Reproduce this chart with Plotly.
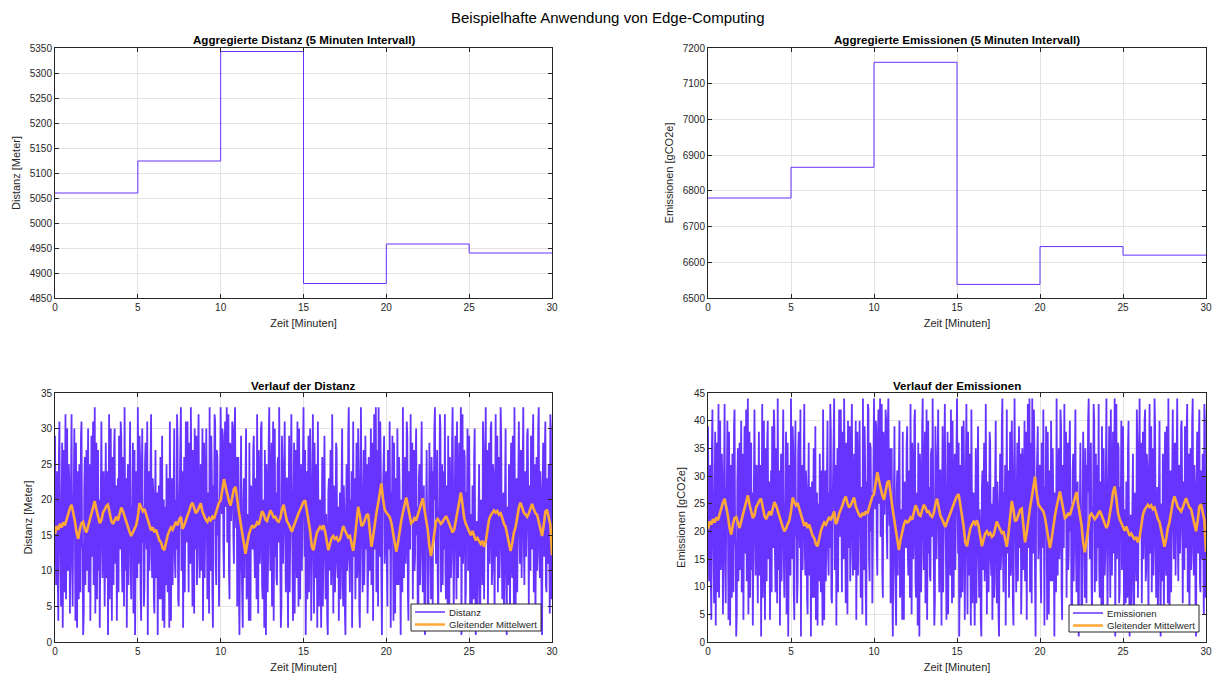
import plotly.graph_objects as go

# ---------------- data ----------------
interval_start_min = [0, 5, 10, 15, 20, 25]
interval_end_min = 30
agg_distance = [5060, 5124, 5343, 4879, 4958, 4940]
agg_emissions = [6780, 6866, 7160, 6538, 6644, 6620]

total_minutes = 30
# one value every 2 seconds
distance_raw = [
    29, 14, 8, 21, 24, 9, 3, 26, 31, 17, 12, 5, 19, 28, 2, 13, 27, 7, 15, 32, 6, 20, 30, 10, 11, 25, 22, 4, 18, 23,
    32, 11, 5, 18, 21, 30, 9, 3, 28, 16, 2, 24, 17, 6, 25, 12, 7, 29, 31, 14, 13, 1, 4, 22, 26, 8, 19, 27, 10, 20,
    30, 7, 14, 25, 3, 18, 29, 12, 22, 31, 8, 15, 33, 4, 16, 28, 6, 21, 27, 10, 20, 2, 11, 26, 31, 17, 9, 23, 24, 13,
    5, 19, 28, 9, 17, 24, 1, 14, 32, 6, 21, 30, 12, 3, 26, 18, 8, 27, 30, 11, 15, 22, 3, 16, 23, 7, 29, 20, 13, 31,
    29, 12, 7, 26, 20, 5, 33, 17, 10, 23, 2, 15, 25, 8, 16, 30, 31, 11, 6, 19, 18, 28, 4, 13, 27, 1, 14, 24, 22, 9,
    33, 18, 11, 29, 26, 7, 3, 22, 30, 14, 19, 5, 8, 25, 28, 16, 13, 31, 1, 20, 24, 10, 17, 27, 32, 12, 9, 23, 21, 6,
    4, 18, 27, 9, 12, 21, 1, 15, 22, 6, 16, 26, 6, 13, 29, 3, 10, 20, 2, 17, 19, 8, 25, 12, 7, 23, 14, 2, 31, 11,
    3, 15, 23, 8, 18, 27, 30, 12, 9, 20, 13, 32, 28, 6, 5, 17, 21, 29, 33, 10, 11, 24, 2, 19, 26, 7, 16, 31, 24, 14,
    31, 16, 7, 28, 22, 11, 33, 20, 15, 5, 27, 23, 4, 30, 19, 13, 29, 8, 12, 26, 32, 17, 9, 21, 25, 10, 18, 30, 3, 24,
    28, 9, 14, 25, 30, 16, 6, 19, 21, 4, 33, 13, 10, 29, 24, 7, 2, 22, 17, 32, 31, 11, 8, 27, 26, 15, 20, 5, 12, 23,
    33, 22, 18, 30, 29, 13, 9, 26, 31, 19, 25, 33, 14, 24, 32, 10, 6, 28, 27, 17, 21, 31, 30, 15, 11, 29, 33, 20, 16, 26,
    5, 16, 26, 8, 1, 12, 19, 29, 11, 4, 2, 20, 23, 9, 14, 25, 30, 6, 7, 18, 17, 3, 28, 10, 3, 22, 21, 15, 13, 27,
    29, 13, 9, 23, 18, 6, 32, 16, 4, 27, 24, 11, 15, 30, 31, 8, 6, 19, 20, 2, 27, 14, 1, 25, 22, 7, 12, 28, 33, 17,
    10, 22, 28, 5, 16, 31, 3, 18, 30, 12, 21, 9, 8, 25, 26, 14, 33, 20, 13, 2, 5, 29, 24, 11, 19, 27, 31, 15, 7, 23,
    23, 12, 2, 18, 29, 7, 15, 26, 32, 20, 11, 3, 19, 28, 4, 14, 27, 16, 9, 31, 21, 5, 30, 13, 6, 22, 25, 10, 17, 24,
    33, 20, 12, 27, 1, 10, 24, 6, 18, 29, 7, 15, 30, 21, 3, 13, 22, 32, 14, 4, 28, 17, 9, 25, 16, 2, 31, 11, 5, 19,
    20, 9, 2, 16, 26, 5, 11, 24, 29, 13, 6, 18, 15, 3, 1, 21, 23, 10, 17, 27, 8, 12, 32, 14, 4, 22, 19, 7, 13, 28,
    27, 11, 9, 19, 3, 15, 21, 6, 14, 26, 30, 8, 5, 22, 18, 4, 1, 17, 25, 10, 12, 29, 33, 13, 7, 20, 16, 24, 2, 14,
    31, 12, 19, 23, 6, 17, 28, 9, 11, 30, 24, 5, 2, 18, 33, 21, 15, 7, 20, 27, 8, 14, 29, 16, 13, 25, 4, 10, 26, 22,
    10, 24, 30, 8, 17, 28, 3, 19, 32, 13, 22, 33, 7, 16, 27, 5, 33, 20, 12, 31, 25, 9, 1, 18, 21, 26, 29, 11, 14, 23,
    24, 10, 5, 27, 19, 13, 31, 6, 2, 21, 16, 29, 11, 3, 28, 15, 4, 23, 13, 8, 30, 17, 8, 26, 22, 12, 1, 20, 18, 7,
    33, 16, 9, 22, 26, 11, 14, 31, 29, 7, 3, 24, 21, 13, 32, 18, 17, 28, 6, 20, 27, 10, 12, 25, 30, 15, 19, 2, 4, 23,
    25, 8, 15, 29, 31, 12, 7, 19, 22, 4, 1, 16, 18, 27, 10, 3, 2, 14, 28, 21, 13, 6, 26, 11, 5, 24, 20, 30, 33, 17,
    11, 20, 27, 9, 3, 16, 19, 32, 30, 7, 14, 25, 8, 18, 24, 13, 32, 10, 6, 22, 17, 4, 29, 15, 2, 26, 21, 9, 12, 28,
    33, 19, 4, 13, 23, 29, 16, 6, 31, 22, 9, 17, 28, 12, 20, 33, 1, 24, 32, 11, 15, 27, 26, 5, 7, 21, 18, 30, 10, 14,
    29, 10, 3, 18, 14, 5, 22, 12, 6, 26, 30, 9, 1, 16, 17, 4, 11, 23, 25, 7, 2, 20, 19, 13, 8, 31, 27, 6, 13, 21,
    33, 14, 20, 27, 5, 22, 28, 11, 16, 30, 31, 8, 10, 25, 24, 17, 3, 19, 32, 12, 18, 29, 7, 21, 26, 9, 15, 33, 29, 13,
    6, 16, 21, 3, 12, 26, 30, 10, 1, 19, 17, 8, 25, 13, 4, 22, 28, 11, 9, 29, 14, 5, 33, 18, 2, 15, 23, 7, 19, 27,
    31, 17, 11, 26, 27, 9, 20, 32, 33, 14, 8, 23, 24, 12, 16, 29, 30, 19, 5, 21, 22, 10, 29, 15, 13, 28, 32, 7, 18, 25,
    3, 18, 26, 10, 15, 30, 33, 12, 9, 24, 21, 5, 1, 20, 28, 14, 12, 27, 31, 8, 7, 23, 19, 11, 25, 16, 4, 32, 30, 6,
    12,
]
emissions_raw = [
    39, 19, 11, 28, 32, 12, 4, 35, 42, 23, 16, 7, 25, 38, 3, 17, 36, 9, 20, 43, 8, 27, 40, 13, 15, 34, 29, 5, 24, 31,
    43, 15, 7, 24, 28, 40, 12, 4, 38, 21, 3, 32, 23, 8, 34, 16, 9, 39, 42, 19, 17, 1, 5, 29, 35, 11, 25, 36, 13, 27,
    40, 9, 19, 34, 4, 24, 39, 16, 29, 42, 11, 20, 44, 5, 21, 38, 8, 28, 36, 13, 27, 3, 15, 35, 42, 23, 12, 31, 32, 17,
    7, 25, 38, 12, 23, 32, 1, 19, 43, 8, 28, 40, 16, 4, 35, 24, 11, 36, 40, 15, 20, 29, 4, 21, 31, 9, 39, 27, 17, 42,
    39, 16, 9, 35, 27, 7, 44, 23, 13, 31, 3, 20, 34, 11, 21, 40, 42, 15, 8, 25, 24, 38, 5, 17, 36, 1, 19, 32, 29, 12,
    44, 24, 15, 39, 35, 9, 4, 29, 40, 19, 25, 7, 11, 34, 38, 21, 17, 42, 1, 27, 32, 13, 23, 36, 43, 16, 12, 31, 28, 8,
    5, 24, 36, 12, 16, 28, 1, 20, 29, 8, 21, 35, 8, 17, 39, 4, 13, 27, 3, 23, 25, 11, 34, 16, 9, 31, 19, 3, 42, 15,
    4, 20, 31, 11, 24, 36, 40, 16, 12, 27, 17, 43, 38, 8, 7, 23, 28, 39, 44, 13, 15, 32, 3, 25, 35, 9, 21, 42, 32, 19,
    42, 21, 9, 38, 29, 15, 44, 27, 20, 7, 36, 31, 5, 40, 25, 17, 39, 11, 16, 35, 43, 23, 12, 28, 34, 13, 24, 40, 4, 32,
    38, 12, 19, 34, 40, 21, 8, 25, 28, 5, 44, 17, 13, 39, 32, 9, 3, 29, 23, 43, 42, 15, 11, 36, 35, 20, 27, 7, 16, 31,
    44, 29, 24, 40, 39, 17, 12, 35, 42, 25, 34, 44, 19, 32, 43, 13, 8, 38, 36, 23, 28, 42, 40, 20, 15, 39, 44, 27, 21, 35,
    7, 21, 35, 11, 1, 16, 25, 39, 15, 5, 3, 27, 31, 12, 19, 34, 40, 8, 9, 24, 23, 4, 38, 13, 4, 29, 28, 20, 17, 36,
    39, 17, 12, 31, 24, 8, 43, 21, 5, 36, 32, 15, 20, 40, 42, 11, 8, 25, 27, 3, 36, 19, 1, 34, 29, 9, 16, 38, 44, 23,
    13, 29, 38, 7, 21, 42, 4, 24, 40, 16, 28, 12, 11, 34, 35, 19, 44, 27, 17, 3, 7, 39, 32, 15, 25, 36, 42, 20, 9, 31,
    31, 16, 3, 24, 39, 9, 20, 35, 43, 27, 15, 4, 25, 38, 5, 19, 36, 21, 12, 42, 28, 7, 40, 17, 8, 29, 34, 13, 23, 32,
    44, 27, 16, 36, 1, 13, 32, 8, 24, 39, 9, 20, 40, 28, 4, 17, 29, 43, 19, 5, 38, 23, 12, 34, 21, 3, 42, 15, 7, 25,
    27, 12, 3, 21, 35, 7, 15, 32, 39, 17, 8, 24, 20, 4, 1, 28, 31, 13, 23, 36, 11, 16, 43, 19, 5, 29, 25, 9, 17, 38,
    36, 15, 12, 25, 4, 20, 28, 8, 19, 35, 40, 11, 7, 29, 24, 5, 1, 23, 34, 13, 16, 39, 44, 17, 9, 27, 21, 32, 3, 19,
    42, 16, 25, 31, 8, 23, 38, 12, 15, 40, 32, 7, 3, 24, 44, 28, 20, 9, 27, 36, 11, 19, 39, 21, 17, 34, 5, 13, 35, 29,
    13, 32, 40, 11, 23, 38, 4, 25, 43, 17, 29, 44, 9, 21, 36, 7, 44, 27, 16, 42, 34, 12, 1, 24, 28, 35, 39, 15, 19, 31,
    32, 13, 7, 36, 25, 17, 42, 8, 3, 28, 21, 39, 15, 4, 38, 20, 5, 31, 17, 11, 40, 23, 11, 35, 29, 16, 1, 27, 24, 9,
    44, 21, 12, 29, 35, 15, 19, 42, 39, 9, 4, 32, 28, 17, 43, 24, 23, 38, 8, 27, 36, 13, 16, 34, 40, 20, 25, 3, 5, 31,
    34, 11, 20, 39, 42, 16, 9, 25, 29, 5, 1, 21, 24, 36, 13, 4, 3, 19, 38, 28, 17, 8, 35, 15, 7, 32, 27, 40, 44, 23,
    15, 27, 36, 12, 4, 21, 25, 43, 40, 9, 19, 34, 11, 24, 32, 17, 43, 13, 8, 29, 23, 5, 39, 20, 3, 35, 28, 12, 16, 38,
    44, 25, 5, 17, 31, 39, 21, 8, 42, 29, 12, 23, 38, 16, 27, 44, 1, 32, 43, 15, 20, 36, 35, 7, 9, 28, 24, 40, 13, 19,
    39, 13, 4, 24, 19, 7, 29, 16, 8, 35, 40, 12, 1, 21, 23, 5, 15, 31, 34, 9, 3, 27, 25, 17, 11, 42, 36, 8, 17, 28,
    44, 19, 27, 36, 7, 29, 38, 15, 21, 40, 42, 11, 13, 34, 32, 23, 4, 25, 43, 16, 24, 39, 9, 28, 35, 12, 20, 44, 39, 17,
    8, 21, 28, 4, 16, 35, 40, 13, 1, 25, 23, 11, 34, 17, 5, 29, 38, 15, 12, 39, 19, 7, 44, 24, 3, 20, 31, 9, 25, 36,
    42, 23, 15, 35, 36, 12, 27, 43, 44, 19, 11, 31, 32, 16, 21, 39, 40, 25, 7, 28, 29, 13, 39, 20, 17, 38, 43, 9, 24, 34,
    4, 24, 35, 13, 20, 40, 44, 16, 12, 32, 28, 7, 1, 27, 38, 19, 16, 36, 42, 11, 9, 31, 25, 15, 34, 21, 5, 43, 40, 8,
    16,
]

# moving average, one value every 0.1 minutes
distance_ma = [
    15.2, 16.3, 15.8, 16.6, 16.1, 16.8, 16.4, 17.3, 17.9, 18.8,
    19.3, 18.2, 17.0, 15.4, 14.5, 15.8, 16.7, 16.9, 15.9, 15.4,
    16.3, 17.2, 18.1, 19.2, 19.8, 18.6, 17.6, 16.7, 17.1, 18.2,
    18.6, 19.1, 19.3, 17.9, 17.0, 16.6, 17.2, 17.6, 17.1, 18.0,
    18.9, 18.4, 17.6, 16.8, 16.1, 15.5, 14.9, 15.3, 15.9, 16.4,
    17.6, 19.5, 18.9, 18.4, 18.7, 17.9, 17.3, 16.2, 15.7, 16.1,
    15.4, 15.8, 15.1, 14.3, 14.0, 13.2, 12.9, 14.1, 15.0, 15.6,
    16.1, 15.8, 16.5, 16.9, 16.4, 17.2, 17.6, 15.9, 16.4, 17.3,
    17.8, 18.4, 19.2, 19.6, 18.7, 18.1, 18.4, 19.0, 19.5, 18.3,
    17.6, 17.2, 16.9, 17.4, 17.1, 17.6, 17.3, 18.2, 19.1, 19.6,
    19.9, 21.6, 22.9, 21.8, 20.6, 19.8, 19.2, 20.4, 21.5, 21.8,
    19.6, 18.3, 16.8, 15.2, 13.9, 12.4, 13.8, 15.1, 15.8, 16.4,
    16.1, 16.3, 16.8, 16.5, 17.4, 18.4, 18.0, 17.2, 17.0, 17.8,
    18.5, 18.1, 17.5, 17.6, 17.1, 16.9, 17.4, 18.6, 19.3, 18.1,
    17.0, 16.6, 16.0, 15.5, 16.2, 16.9, 17.5, 18.1, 18.6, 19.2,
    19.7, 19.9, 18.6, 17.5, 15.6, 13.4, 12.9, 14.2, 15.3, 15.8,
    16.2, 15.9, 16.4, 15.6, 14.1, 12.9, 13.8, 14.6, 14.9, 14.5,
    14.7, 14.2, 14.4, 15.5, 16.3, 15.7, 15.2, 14.7, 14.9, 13.6,
    12.8, 14.6, 17.4, 19.0, 17.8, 16.3, 16.5, 17.2, 17.8, 18.0,
    15.6, 13.4, 14.8, 16.7, 18.1, 19.4, 20.8, 22.3, 20.1, 18.6,
    18.2, 17.9, 17.6, 16.8, 15.2, 13.6, 12.7, 13.9, 15.6, 17.0,
    18.2, 19.4, 20.3, 19.1, 17.6, 16.7, 16.9, 17.4, 17.1, 17.9,
    18.8, 19.6, 20.2, 18.6, 17.2, 15.8, 13.4, 12.1, 13.6, 15.4,
    17.0, 17.3, 16.9, 16.6, 16.9, 17.4, 17.7, 17.2, 16.6, 15.9,
    15.4, 15.8, 17.1, 18.6, 20.2, 21.0, 19.3, 17.4, 16.6, 16.0,
    15.4, 15.0, 15.6, 14.8, 14.3, 14.6, 14.1, 13.8, 14.2, 13.4,
    14.1, 15.8, 17.2, 17.8, 18.1, 18.5, 18.2, 18.4, 17.9, 18.1,
    17.4, 16.6, 16.2, 15.1, 13.6, 12.8, 13.9, 15.4, 16.1, 17.6,
    18.9, 19.6, 18.8, 18.2, 17.9, 17.6, 18.1, 18.9, 19.4, 18.7,
    18.1, 17.9, 16.9, 15.6, 14.9, 16.4, 18.3, 18.6, 17.4, 16.5,
    12.2,
]
emissions_ma = [
    20.4, 21.8, 21.2, 22.2, 21.6, 22.5, 22.0, 23.2, 24.0, 25.2,
    25.9, 24.4, 22.8, 20.6, 19.4, 21.2, 22.4, 22.6, 21.3, 20.6,
    21.8, 23.0, 24.3, 25.7, 26.5, 24.9, 23.6, 22.4, 22.9, 24.4,
    24.9, 25.6, 25.9, 24.0, 22.8, 22.2, 23.0, 23.6, 22.9, 24.1,
    25.3, 24.7, 23.6, 22.5, 21.6, 20.8, 20.0, 20.5, 21.3, 22.0,
    23.6, 26.1, 25.3, 24.7, 25.1, 24.0, 23.2, 21.7, 21.0, 21.6,
    20.6, 21.2, 20.2, 19.2, 18.8, 17.7, 17.3, 18.9, 20.1, 20.9,
    21.6, 21.2, 22.1, 22.6, 22.0, 23.0, 23.6, 21.3, 22.0, 23.2,
    23.9, 24.7, 25.7, 26.3, 25.1, 24.3, 24.7, 25.5, 26.1, 24.5,
    23.6, 23.0, 22.6, 23.3, 22.9, 23.6, 23.2, 24.4, 25.6, 26.3,
    26.7, 28.9, 30.7, 29.2, 27.6, 26.5, 25.7, 27.3, 28.8, 29.2,
    26.3, 24.5, 22.5, 20.4, 18.6, 16.6, 18.5, 20.2, 21.2, 22.0,
    21.6, 21.8, 22.5, 22.1, 23.3, 24.7, 24.1, 23.0, 22.8, 23.9,
    24.8, 24.3, 23.5, 23.6, 22.9, 22.6, 23.3, 24.9, 25.9, 24.3,
    22.8, 22.2, 21.4, 20.8, 21.7, 22.6, 23.5, 24.3, 24.9, 25.7,
    26.4, 26.7, 24.9, 23.5, 20.9, 18.0, 17.3, 19.0, 20.5, 21.2,
    21.7, 21.3, 22.0, 20.9, 18.9, 17.3, 18.5, 19.6, 20.0, 19.4,
    19.7, 19.0, 19.3, 20.8, 21.8, 21.0, 20.4, 19.7, 20.0, 18.2,
    17.2, 19.6, 23.3, 25.5, 23.9, 21.8, 22.1, 23.0, 23.9, 24.1,
    20.9, 18.0, 19.8, 22.4, 24.3, 26.0, 27.9, 29.9, 26.9, 24.9,
    24.4, 24.0, 23.6, 22.5, 20.4, 18.2, 17.0, 18.6, 20.9, 22.8,
    24.4, 26.0, 27.2, 25.6, 23.6, 22.4, 22.6, 23.3, 22.9, 24.0,
    25.2, 26.3, 27.1, 24.9, 23.0, 21.2, 18.0, 16.2, 18.2, 20.6,
    22.8, 23.2, 22.6, 22.2, 22.6, 23.3, 23.7, 23.0, 22.2, 21.3,
    20.6, 21.2, 22.9, 24.9, 27.1, 28.1, 25.9, 23.3, 22.2, 21.4,
    20.6, 20.1, 20.9, 19.8, 19.2, 19.6, 18.9, 18.5, 19.0, 18.0,
    18.9, 21.2, 23.0, 23.9, 24.3, 24.8, 24.4, 24.7, 24.0, 24.3,
    23.3, 22.2, 21.7, 20.2, 18.2, 17.2, 18.6, 20.6, 21.6, 23.6,
    25.3, 26.3, 25.2, 24.4, 24.0, 23.6, 24.3, 25.3, 26.0, 25.1,
    24.3, 24.0, 22.6, 20.9, 20.0, 22.0, 24.5, 24.9, 23.3, 22.1,
    16.3,
]

x_ticks = [0, 5, 10, 15, 20, 25, 30]
legend_labels_distance = ["Distanz", "Gleitender Mittelwert"]
legend_labels_emissions = ["Emissionen", "Gleitender Mittelwert"]

# ---------------- derived x positions ----------------
t_raw = [i * total_minutes / (len(distance_raw) - 1) for i in range(len(distance_raw))]
t_raw_e = [i * total_minutes / (len(emissions_raw) - 1) for i in range(len(emissions_raw))]
t_ma = [i * total_minutes / (len(distance_ma) - 1) for i in range(len(distance_ma))]
t_ma_e = [i * total_minutes / (len(emissions_ma) - 1) for i in range(len(emissions_ma))]
step_x = interval_start_min + [interval_end_min]
step_dist = agg_distance + [agg_distance[-1]]
step_em = agg_emissions + [agg_emissions[-1]]

PURPLE = "#6633ff"
ORANGE = "#ffa838"
FONT = "Liberation Sans, Arial, sans-serif"
TXT = "#262626"

W, H = 1215, 675
def px_x(p):
    return p / W
def px_y(p):
    return 1 - p / H

fig = go.Figure()

fig.add_trace(go.Scatter(x=step_x, y=step_dist, mode="lines", line_shape="hv",
                         line=dict(color=PURPLE, width=1), showlegend=False,
                         xaxis="x", yaxis="y"))
fig.add_trace(go.Scatter(x=step_x, y=step_em, mode="lines", line_shape="hv",
                         line=dict(color=PURPLE, width=1), showlegend=False,
                         xaxis="x2", yaxis="y2"))
fig.add_trace(go.Scatter(x=t_raw, y=distance_raw, mode="lines", name=legend_labels_distance[0],
                         line=dict(color=PURPLE, width=1.8), showlegend=False,
                         xaxis="x3", yaxis="y3"))
fig.add_trace(go.Scatter(x=t_ma, y=distance_ma, mode="lines", name=legend_labels_distance[1],
                         line=dict(color=ORANGE, width=2.6), showlegend=False,
                         xaxis="x3", yaxis="y3"))
fig.add_trace(go.Scatter(x=t_raw_e, y=emissions_raw, mode="lines", name=legend_labels_emissions[0],
                         line=dict(color=PURPLE, width=1.8), showlegend=False,
                         xaxis="x4", yaxis="y4"))
fig.add_trace(go.Scatter(x=t_ma_e, y=emissions_ma, mode="lines", name=legend_labels_emissions[1],
                         line=dict(color=ORANGE, width=2.6), showlegend=False,
                         xaxis="x4", yaxis="y4"))

left_dom = [px_x(55), px_x(552)]
right_dom = [px_x(708), px_x(1206)]
top_dom = [px_y(298), px_y(48)]
bot_dom = [px_y(642), px_y(393)]

def xax(dom, anchor):
    return dict(domain=dom, anchor=anchor, range=[0, 30], tickvals=x_ticks,
                automargin=False,
                showgrid=True, gridcolor="#e3e3e3", gridwidth=1, zeroline=False,
                showline=True, linecolor=TXT, linewidth=1, mirror="ticks",
                ticks="inside", ticklen=4, tickcolor=TXT,
                tickfont=dict(family=FONT, size=10, color=TXT),
                title=dict(text="Zeit [Minuten]", standoff=7,
                           font=dict(family=FONT, size=11, color=TXT)))

def yax(dom, anchor, rng, dtick, title):
    return dict(domain=dom, anchor=anchor, range=rng, dtick=dtick, tick0=0,
                automargin=False,
                showgrid=True, gridcolor="#e3e3e3", gridwidth=1, zeroline=False,
                showline=True, linecolor=TXT, linewidth=1, mirror="ticks",
                ticks="inside", ticklen=4, tickcolor=TXT,
                tickfont=dict(family=FONT, size=10, color=TXT),
                title=dict(text=title, standoff=6,
                           font=dict(family=FONT, size=11, color=TXT)))

fig.update_layout(
    width=W, height=H, margin=dict(l=0, r=0, t=0, b=0),
    paper_bgcolor="white", plot_bgcolor="white",
    font=dict(family=FONT, color=TXT),
    xaxis=xax(left_dom, "y"),
    yaxis=yax(top_dom, "x", [4850, 5350], 50, "Distanz [Meter]"),
    xaxis2=xax(right_dom, "y2"),
    yaxis2=yax(top_dom, "x2", [6500, 7200], 100, "Emissionen [gCO2e]"),
    xaxis3=xax(left_dom, "y3"),
    yaxis3=yax(bot_dom, "x3", [0, 35], 5, "Distanz [Meter]"),
    xaxis4=xax(right_dom, "y4"),
    yaxis4=yax(bot_dom, "x4", [0, 45], 5, "Emissionen [gCO2e]"),
    showlegend=False,
)

annotations = [
    dict(text="Beispielhafte Anwendung von Edge-Computing", x=0.5, y=px_y(18),
         font=dict(family=FONT, size=15, color="black"), xanchor="center"),
    dict(text="<b>Aggregierte Distanz (5 Minuten Intervall)</b>", x=(55 + 552) / 2 / W, y=px_y(40),
         font=dict(family=FONT, size=11.6, color="black"), xanchor="center"),
    dict(text="<b>Aggregierte Emissionen (5 Minuten Intervall)</b>", x=(708 + 1206) / 2 / W, y=px_y(40),
         font=dict(family=FONT, size=11.6, color="black"), xanchor="center"),
    dict(text="<b>Verlauf der Distanz</b>", x=(55 + 552) / 2 / W, y=px_y(385),
         font=dict(family=FONT, size=11.6, color="black"), xanchor="center"),
    dict(text="<b>Verlauf der Emissionen</b>", x=(708 + 1206) / 2 / W, y=px_y(385),
         font=dict(family=FONT, size=11.6, color="black"), xanchor="center"),
]

# legend boxes (drawn like the MATLAB legends)
shapes = []
def add_legend(x0, y0, labels):
    w, h = 130, 27
    shapes.append(dict(type="rect", xref="paper", yref="paper",
                       x0=px_x(x0), x1=px_x(x0 + w), y0=px_y(y0 + h), y1=px_y(y0),
                       line=dict(color=TXT, width=1), fillcolor="white", layer="above"))
    for k, (lab, col, lw) in enumerate(zip(labels, [PURPLE, ORANGE], [1.5, 2.5])):
        yy = y0 + 8 + k * 12.5
        shapes.append(dict(type="line", xref="paper", yref="paper",
                           x0=px_x(x0 + 4), x1=px_x(x0 + 34), y0=px_y(yy), y1=px_y(yy),
                           line=dict(color=col, width=lw), layer="above"))
        annotations.append(dict(text=lab, x=px_x(x0 + 36), y=px_y(yy), xanchor="left",
                                font=dict(family=FONT, size=9.6, color=TXT)))

add_legend(411, 604, legend_labels_distance)
add_legend(1069, 605, legend_labels_emissions)

for a in annotations:
    a.update(xref="paper", yref="paper", showarrow=False, yanchor="middle")
fig.update_layout(annotations=annotations, shapes=shapes)

fig.write_html("out.html", config={"displayModeBar": False},
               post_script="document.body.style.margin='0';document.body.style.padding='0';")
